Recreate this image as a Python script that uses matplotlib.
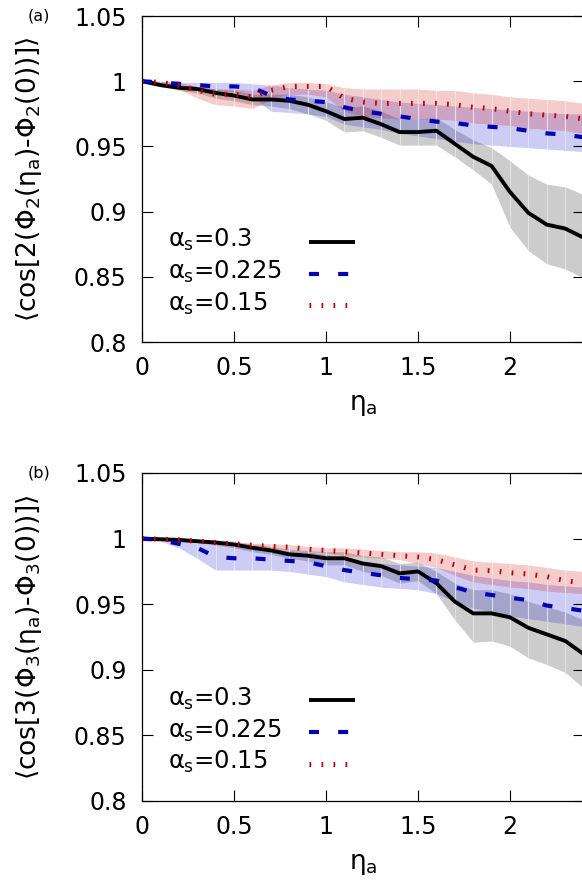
import matplotlib
matplotlib.use("Agg")
import matplotlib.pyplot as plt
from matplotlib.lines import Line2D

plt.rcParams["font.family"] = ["DejaVu Sans"]
plt.rcParams["mathtext.fontset"] = "custom"
plt.rcParams["mathtext.rm"] = "DejaVu Sans"
plt.rcParams["mathtext.it"] = "DejaVu Sans"
plt.rcParams["mathtext.bf"] = "DejaVu Sans:bold"

eta = [0.0, 0.1, 0.2, 0.3, 0.4, 0.5, 0.6, 0.7, 0.8, 0.9, 1.0, 1.1, 1.2,
       1.3, 1.4, 1.5, 1.6, 1.7, 1.8, 1.9, 2.0, 2.1, 2.2, 2.3, 2.4, 2.5]

# panel (a): <cos[2(Phi2(eta)-Phi2(0))]>
a_black = [1.0, 0.997, 0.995, 0.994, 0.991, 0.989, 0.986, 0.986, 0.985, 0.982, 0.977, 0.971, 0.972,
           0.967, 0.961, 0.961, 0.962, 0.952, 0.942, 0.935, 0.915, 0.899, 0.890, 0.887, 0.880, 0.873]
a_black_lo = [1.0, 0.996, 0.993, 0.991, 0.987, 0.985, 0.982, 0.981, 0.979, 0.975, 0.970, 0.961, 0.962,
              0.957, 0.951, 0.951, 0.951, 0.942, 0.932, 0.921, 0.888, 0.870, 0.860, 0.856, 0.849, 0.845]
a_black_hi = [1.0, 0.998, 0.997, 0.996, 0.994, 0.993, 0.990, 0.990, 0.990, 0.988, 0.984, 0.980, 0.981,
              0.977, 0.971, 0.971, 0.972, 0.963, 0.955, 0.949, 0.939, 0.928, 0.921, 0.919, 0.913, 0.908]
a_blue = [1.0, 0.999, 0.998, 0.997, 0.996, 0.996, 0.995, 0.989, 0.986, 0.985, 0.984, 0.980, 0.977,
          0.975, 0.973, 0.971, 0.969, 0.968, 0.966, 0.965, 0.964, 0.962, 0.960, 0.959, 0.957, 0.955]
a_blue_lo = [1.0, 0.998, 0.996, 0.994, 0.993, 0.992, 0.988, 0.977, 0.976, 0.975, 0.973, 0.967, 0.965,
             0.963, 0.960, 0.958, 0.956, 0.954, 0.952, 0.951, 0.950, 0.949, 0.948, 0.947, 0.946, 0.945]
a_blue_hi = [1.0, 1.0, 0.999, 0.999, 0.999, 0.999, 0.998, 0.997, 0.995, 0.994, 0.993, 0.990, 0.988,
             0.986, 0.984, 0.983, 0.982, 0.981, 0.980, 0.979, 0.978, 0.977, 0.976, 0.975, 0.975, 0.974]
a_red = [1.0, 0.999, 0.997, 0.993, 0.990, 0.990, 0.988, 0.993, 0.996, 0.996, 0.996, 0.987, 0.984,
         0.983, 0.983, 0.983, 0.983, 0.982, 0.980, 0.979, 0.977, 0.975, 0.974, 0.973, 0.971, 0.970]
a_red_lo = [1.0, 0.998, 0.994, 0.987, 0.982, 0.981, 0.979, 0.986, 0.990, 0.990, 0.988, 0.977, 0.973,
            0.972, 0.971, 0.971, 0.971, 0.970, 0.968, 0.967, 0.966, 0.964, 0.963, 0.962, 0.960, 0.958]
a_red_hi = [1.0, 1.0, 0.999, 0.996, 0.994, 0.994, 0.993, 0.997, 0.999, 0.999, 0.998, 0.995, 0.994,
            0.994, 0.994, 0.994, 0.993, 0.993, 0.991, 0.990, 0.988, 0.987, 0.986, 0.985, 0.983, 0.982]

# panel (b): <cos[3(Phi3(eta)-Phi3(0))]>
b_black = [1.0, 0.9995, 0.999, 0.998, 0.997, 0.9955, 0.993, 0.991, 0.988, 0.987, 0.985, 0.985, 0.981,
           0.979, 0.9735, 0.975, 0.966, 0.952, 0.943, 0.943, 0.940, 0.932, 0.927, 0.922, 0.912, 0.905]
b_black_lo = [1.0, 0.999, 0.998, 0.997, 0.995, 0.993, 0.990, 0.988, 0.985, 0.983, 0.980, 0.980, 0.975,
              0.972, 0.966, 0.968, 0.958, 0.938, 0.921, 0.922, 0.918, 0.909, 0.904, 0.898, 0.886, 0.880]
b_black_hi = [1.0, 1.0, 1.0, 0.999, 0.999, 0.998, 0.996, 0.994, 0.992, 0.991, 0.990, 0.990, 0.987,
              0.986, 0.981, 0.982, 0.975, 0.966, 0.961, 0.961, 0.958, 0.952, 0.948, 0.944, 0.938, 0.932]
b_blue = [1.0, 0.999, 0.996, 0.993, 0.986, 0.985, 0.985, 0.984, 0.983, 0.982, 0.979, 0.976, 0.974,
          0.972, 0.970, 0.969, 0.968, 0.963, 0.959, 0.957, 0.955, 0.953, 0.949, 0.947, 0.945, 0.943]
b_blue_lo = [1.0, 0.998, 0.993, 0.985, 0.976, 0.976, 0.976, 0.976, 0.975, 0.973, 0.971, 0.967, 0.965,
             0.963, 0.962, 0.961, 0.958, 0.952, 0.947, 0.944, 0.941, 0.939, 0.937, 0.935, 0.933, 0.931]
b_blue_hi = [1.0, 1.0, 0.999, 0.998, 0.997, 0.995, 0.994, 0.992, 0.991, 0.990, 0.988, 0.985, 0.983,
             0.981, 0.980, 0.979, 0.978, 0.975, 0.972, 0.970, 0.968, 0.967, 0.965, 0.964, 0.963, 0.962]
b_red = [1.0, 0.9995, 0.999, 0.998, 0.997, 0.996, 0.995, 0.994, 0.9935, 0.992, 0.991, 0.990, 0.989,
         0.988, 0.987, 0.986, 0.984, 0.980, 0.976, 0.9755, 0.974, 0.973, 0.971, 0.968, 0.966, 0.964]
b_red_lo = [1.0, 0.9985, 0.998, 0.997, 0.996, 0.995, 0.9935, 0.992, 0.9915, 0.990, 0.989, 0.987, 0.986,
            0.985, 0.984, 0.981, 0.978, 0.972, 0.967, 0.965, 0.963, 0.962, 0.960, 0.959, 0.958, 0.956]
b_red_hi = [1.0, 1.0, 1.0, 0.999, 0.998, 0.997, 0.9965, 0.996, 0.9955, 0.994, 0.993, 0.993, 0.992,
            0.991, 0.990, 0.990, 0.989, 0.986, 0.983, 0.982, 0.981, 0.980, 0.978, 0.976, 0.975, 0.973]

labels = [r"$\alpha_\mathrm{s}$=0.3", r"$\alpha_\mathrm{s}$=0.225", r"$\alpha_\mathrm{s}$=0.15"]
colors = ["black", "#0000b4", "#c00000"]
band_colors = ["#000000", "#0000cc", "#cc0000"]
styles = [dict(ls="-", lw=2.8),
          dict(ls=(0, (2.4, 4.6)), lw=3.0),
          dict(ls=(0, (0.35, 2.05)), lw=3.6)]

panels = [
    ("(a)", r"$\langle$cos[2($\Phi_2$($\eta_\mathrm{a}$)-$\Phi_2$(0))]$\rangle$",
     [(a_black, a_black_lo, a_black_hi), (a_blue, a_blue_lo, a_blue_hi), (a_red, a_red_lo, a_red_hi)]),
    ("(b)", r"$\langle$cos[3($\Phi_3$($\eta_\mathrm{a}$)-$\Phi_3$(0))]$\rangle$",
     [(b_black, b_black_lo, b_black_hi), (b_blue, b_blue_lo, b_blue_hi), (b_red, b_red_lo, b_red_hi)]),
]

W, H = 582, 882
fig = plt.figure(figsize=(W / 100, H / 100), dpi=100)
axes_px = [(16, 342), (473, 801)]  # top, bottom spine rows

for (tag, ylabel, series), (top, bot) in zip(panels, axes_px):
    ax = fig.add_axes([142 / W, 1 - bot / H, 441.6 / W, (bot - top) / H])
    for (mid, lo, hi), bc in zip(series, band_colors):
        ax.fill_between(eta, lo, hi, color=bc, alpha=0.2, lw=0)
        # faint seams between band segments, like the gnuplot output
        ax.vlines(eta[1:-1], lo[1:-1], hi[1:-1], color="white", alpha=0.4, lw=0.8)
    for (mid, lo, hi), c, st in zip(series, colors, styles):
        ax.plot(eta, mid, color=c, solid_capstyle="butt", dash_capstyle="butt", **st)
    ax.set_xlim(0, 2.4)
    ax.set_ylim(0.8, 1.05)
    ax.set_xticks([0, 0.5, 1, 1.5, 2])
    ax.set_xticklabels(["0", "0.5", "1", "1.5", "2"])
    ax.set_yticks([0.8, 0.85, 0.9, 0.95, 1.0, 1.05])
    ax.set_yticklabels(["0.8", "0.85", "0.9", "0.95", "1", "1.05"])
    ax.tick_params(direction="in", length=8, width=0.8, top=True, right=True,
                   labelsize=17)
    ax.tick_params(axis="y", pad=11)
    ax.tick_params(axis="x", pad=10)
    for sp in ax.spines.values():
        sp.set_linewidth(0.9)
    ax.set_xlabel(r"$\eta_\mathrm{a}$", fontsize=19, labelpad=9)
    ax.set_ylabel(ylabel, fontsize=19)
    ax.yaxis.set_label_coords(-0.222, 0.5)
    ax.text(-0.26, 1.0, tag, transform=ax.transAxes, fontsize=11.5, va="center", ha="left")

    # key, gnuplot style: text left, sample on the right
    for k, (lab, c, st) in enumerate(zip(labels, colors, styles)):
        yb = 0.291 - 0.097 * k
        ax.text(0.059, yb, lab, transform=ax.transAxes, fontsize=17.5, va="baseline", ha="left")
        ax.add_line(Line2D([0.378, 0.482], [yb + 0.016, yb + 0.016], transform=ax.transAxes,
                           color=c, solid_capstyle="butt", dash_capstyle="butt", **st))

fig.savefig("out.png", dpi=100)
